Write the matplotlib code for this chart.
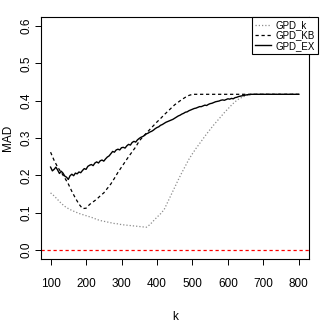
import numpy as np
import matplotlib
matplotlib.use('Agg')
import matplotlib.pyplot as plt

plt.rcParams['font.family'] = ['Liberation Sans', 'DejaVu Sans']

########## datos

k10 = np.arange(100, 801, 10)

gpd_k = [0.153, 0.145, 0.135, 0.125, 0.117, 0.111, 0.106, 0.102, 0.098, 0.095,
         0.092, 0.089, 0.086, 0.082, 0.079, 0.077, 0.075, 0.073, 0.071, 0.070,
         0.068, 0.067, 0.066, 0.065, 0.064, 0.063, 0.062, 0.061, 0.068, 0.078,
         0.088, 0.097, 0.108, 0.128, 0.148, 0.168, 0.188, 0.207, 0.225, 0.243,
         0.258, 0.272, 0.285, 0.298, 0.311, 0.323, 0.335, 0.346, 0.357, 0.368,
         0.378, 0.388, 0.397, 0.404, 0.409, 0.413, 0.416] + [0.417] * 14

gpd_kb = [0.262, 0.240, 0.222, 0.208, 0.193, 0.177, 0.157, 0.139, 0.123, 0.111,
          0.112, 0.122, 0.129, 0.136, 0.145, 0.153, 0.165, 0.177, 0.192, 0.208,
          0.222, 0.236, 0.250, 0.263, 0.276, 0.292, 0.303, 0.313, 0.323, 0.333,
          0.343, 0.352, 0.362, 0.371, 0.380, 0.389, 0.396, 0.403, 0.409, 0.414] + [0.417] * 31

k5 = np.arange(100, 801, 5)

gpd_ex = [0.222, 0.212, 0.216, 0.222, 0.214, 0.205, 0.211, 0.206, 0.198, 0.195,
          0.189, 0.199, 0.203, 0.199, 0.206, 0.204, 0.209, 0.207, 0.213, 0.218,
          0.216, 0.224, 0.227, 0.229, 0.226, 0.233, 0.236, 0.233, 0.239, 0.241,
          0.238, 0.244, 0.249, 0.252, 0.258, 0.264, 0.262, 0.268, 0.270, 0.268,
          0.274, 0.275, 0.273, 0.279, 0.283, 0.281, 0.288, 0.291, 0.289, 0.295,
          0.299, 0.302, 0.304, 0.307, 0.311, 0.313, 0.316, 0.318, 0.321, 0.325,
          0.328, 0.330, 0.334, 0.336, 0.339, 0.342, 0.344, 0.346, 0.348, 0.350,
          0.353, 0.356, 0.359, 0.361, 0.364, 0.366, 0.369, 0.370, 0.373, 0.375,
          0.377, 0.379, 0.380, 0.382, 0.384, 0.384, 0.386, 0.388, 0.387, 0.390,
          0.392, 0.393, 0.395, 0.397, 0.398, 0.399, 0.401, 0.402, 0.401, 0.403,
          0.405, 0.404, 0.406, 0.405, 0.408, 0.409, 0.411, 0.412, 0.413, 0.414,
          0.415, 0.416, 0.416] + [0.417] * 28

xticks = [100, 200, 300, 400, 500, 600, 700, 800]
yticks = [0.0, 0.1, 0.2, 0.3, 0.4, 0.5, 0.6]

########## figura

fig = plt.figure(figsize=(3.2, 3.27), dpi=100)
ax = fig.add_axes([0.127, 0.208, 0.838, 0.740])

ax.plot(k10, gpd_k, color='#8c8c8c', lw=0.9, linestyle=(0, (1, 1.6)), label='GPD_k')
ax.plot(k10, gpd_kb, color='black', lw=0.9, linestyle=(0, (2.6, 2.2)), label='GPD_KB')
ax.plot(k5, gpd_ex, color='black', lw=1.0, label='GPD_EX')
ax.axhline(0, color='red', lw=0.9, linestyle=(0, (2.6, 2.2)))

ax.set_xlim(72, 828)
ax.set_ylim(-0.024, 0.624)
ax.set_xticks(xticks)
ax.set_yticks(yticks)
ax.set_yticklabels(['%.1f' % v for v in yticks], rotation=90, va='center')
ax.tick_params(axis='both', direction='out', length=4.5, width=0.7, labelsize=8.5)
ax.tick_params(axis='x', pad=9)
ax.tick_params(axis='y', pad=1.5)
for s in ax.spines.values():
    s.set_linewidth(0.8)

ax.set_xlabel('k', fontsize=8.5)
ax.set_ylabel('MAD', fontsize=8.5)
ax.xaxis.set_label_coords(0.5, -0.215)
ax.yaxis.set_label_coords(-0.098, 0.5)

leg = ax.legend(loc='upper right', bbox_to_anchor=(318 / 320, 310 / 327),
                bbox_transform=fig.transFigure, borderaxespad=0, fontsize=7,
                fancybox=False, framealpha=1, edgecolor='black',
                handlelength=1.6, handletextpad=0.5, labelspacing=0.05,
                borderpad=0.3)
leg.get_frame().set_linewidth(0.8)

plt.savefig('out.png', dpi=100)
